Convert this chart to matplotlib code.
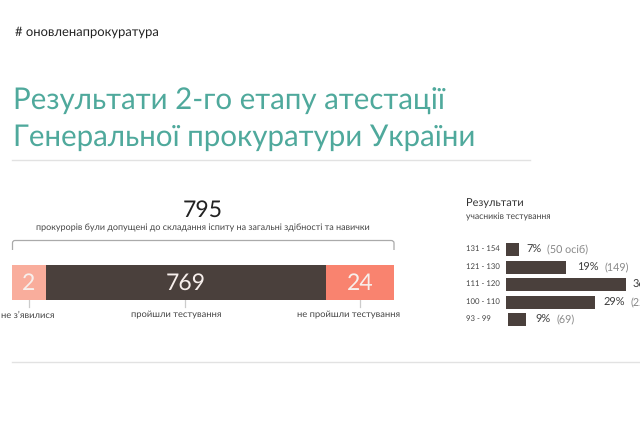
import matplotlib
matplotlib.use("Agg")
import matplotlib.pyplot as plt
from matplotlib.patches import PathPatch
from matplotlib.path import Path

# ---- data ----
stack_values = [2, 769, 24]
stack_labels = ["не з’явилися", "пройшли тестування", "не пройшли тестування"]
stack_drawn_lengths = [34, 280, 68]   # the picture's segments are not to scale
stack_colors = ["#f9ad9c", "#4a403c", "#f9836f"]
total_value = 795

score_ranges = ["131 - 154", "121 - 130", "111 - 120", "100 - 110", "93 - 99"]
score_pct = [7, 19, 36, 29, 9]
score_counts = ["(50 осіб)", "(149)", "(278)", "(223)", "(69)"]
score_drawn_lengths = [13, 60, 120, 89, 18]  # as drawn in the picture
score_starts = [0, 0, 0, 0, 2]

W, H = 640, 425
plt.rcParams["font.family"] = ["Lato", "DejaVu Sans"]
plt.rcParams["text.hinting"] = "no_hinting"
fig = plt.figure(figsize=(W / 100, H / 100), dpi=100, facecolor="white")

def px(v):
    return v * 0.72

# background layer in pixel coordinates
bg = fig.add_axes([0, 0, 1, 1])
bg.set_xlim(0, W)
bg.set_ylim(H, 0)
bg.axis("off")

bg.text(15, 32.5, "# оновленапрокуратура", fontsize=px(13), color="#222222", va="center")
bg.text(13, 110, "Результати 2-го етапу атестації", fontsize=px(29.5), color="#4fa99c", va="baseline")
bg.text(13, 146, "Генеральної прокуратури України", fontsize=px(29.5), color="#4fa99c", va="baseline")
bg.plot([12, 530], [160, 160], color="#e2e2e2", lw=1)
bg.plot([12, 640], [362, 362], color="#e2e2e2", lw=1)

bg.text(203, 210, str(total_value), fontsize=px(23), color="#222222", ha="center", va="center")
bg.text(203, 228, "прокурорів були допущені до складання іспиту на загальні здібності та навички",
        fontsize=px(9), color="#444444", ha="center", va="center")

# bracket
verts = [(12.5, 250), (12.5, 243), (12.5, 240.5), (15, 240.5), (391, 240.5), (394, 240.5), (394, 243), (394, 250)]
codes = [Path.MOVETO, Path.LINETO, Path.CURVE3, Path.CURVE3, Path.LINETO, Path.CURVE3, Path.CURVE3, Path.LINETO]
bg.add_patch(PathPatch(Path(verts, codes), fc="none", ec="#aaaaaa", lw=0.9))

# stacked bar
ax = fig.add_axes([12 / W, 1 - 300 / H, 382 / W, 35 / H])
ax.set_xlim(0, sum(stack_drawn_lengths))
ax.set_ylim(0, 1)
ax.axis("off")
left = 0
for v, length, c in zip(stack_values, stack_drawn_lengths, stack_colors):
    ax.barh(0.5, length, left=left, height=1, color=c, lw=0)
    ax.text(left + length / 2, 0.47, str(v), color="#f7efec", fontsize=px(23), ha="center", va="center")
    left += length

label_x = [28, 176, 348.5]
tick_x = [29, 185, 360]
for lx, tx, lab in zip(label_x, tick_x, stack_labels):
    bg.plot([tx, tx], [300, 307], color="#cccccc", lw=0.9)
    bg.text(lx, 315, lab, fontsize=px(9.4), color="#444444", ha="center", va="center")

# results panel
bg.text(466, 203, "Результати", fontsize=px(11), color="#333333", va="center")
bg.text(466, 217, "учасників тестування", fontsize=px(8.6), color="#444444", va="center")

ax2 = fig.add_axes([506 / W, 1 - 328 / H, 134 / W, 88 / H])
ax2.set_xlim(0, 134)
ax2.set_ylim(88, 0)
ax2.axis("off")
rows = [9, 27, 44, 62, 79]
text_gap = [7, 11, 7, 8, 9]
for r, rng, p, cnt, ln, st, g in zip(rows, score_ranges, score_pct, score_counts, score_drawn_lengths, score_starts, text_gap):
    ax2.barh(r, ln, left=st, height=13, color="#4a403c", lw=0)
    ax2.text(-40, r, rng, fontsize=px(7.8), color="#444444", va="center", clip_on=False)
    t = ax2.text(st + ln + g, r + 1, f"{p}%", fontsize=px(11), color="#3a3a3a", va="center", clip_on=False)
    fig.canvas.draw()
    bb = t.get_window_extent()
    fig.text((bb.x1 + 6) / W, 1 - (r + 241) / H, cnt, fontsize=px(10.8), color="#888888", va="center")

fig.savefig("out.png", dpi=100)
